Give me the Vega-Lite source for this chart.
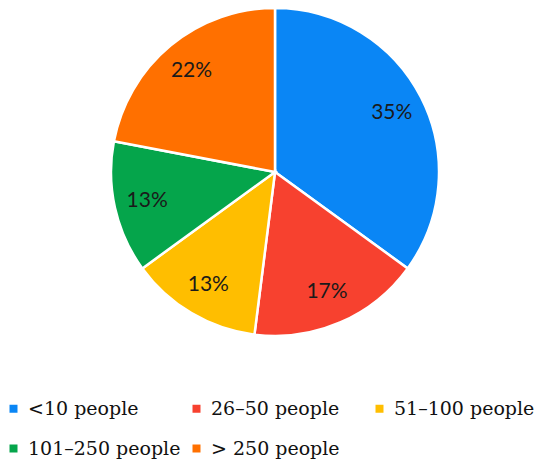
{
  "$schema": "https://vega.github.io/schema/vega-lite/v6.json",
  "width": 550,
  "height": 344,
  "padding": 0,
  "background": "white",
  "data": {
    "values": [
      {"group": "<10 people", "pct": 35, "label": "35%", "ord": 1},
      {"group": "26–50 people", "pct": 17, "label": "17%", "ord": 2},
      {"group": "51–100 people", "pct": 13, "label": "13%", "ord": 3},
      {"group": "101–250 people", "pct": 13, "label": "13%", "ord": 4},
      {"group": "> 250 people", "pct": 22, "label": "22%", "ord": 5}
    ]
  },
  "encoding": {
    "theta": {"field": "pct", "type": "quantitative", "stack": true},
    "order": {"field": "ord", "type": "quantitative"}
  },
  "layer": [
    {
      "mark": {"type": "arc", "outerRadius": 164, "stroke": "white", "strokeWidth": 2.5},
      "encoding": {
        "color": {
          "field": "group",
          "type": "nominal",
          "sort": ["<10 people", "26–50 people", "51–100 people", "101–250 people", "> 250 people"],
          "scale": {
            "domain": ["<10 people", "26–50 people", "51–100 people", "101–250 people", "> 250 people"],
            "range": ["#0A86F5", "#F7412F", "#FFBE00", "#05A54B", "#FF7000"]
          },
          "legend": {
            "title": null,
            "orient": "none",
            "legendX": 4,
            "legendY": 399,
            "direction": "horizontal",
            "columns": 3,
            "gridAlign": "all",
            "columnPadding": 6,
            "rowPadding": 20,
            "padding": 0,
            "symbolType": "square",
            "symbolSize": 64,
            "symbolStrokeWidth": 0,
            "labelOffset": 5,
            "labelFont": "DejaVu Serif",
            "labelFontSize": 19,
            "labelColor": "#111111",
            "labelLimit": 300
          }
        }
      }
    },
    {
      "mark": {"type": "text", "radius": 131, "font": "Lato", "fontSize": 21, "color": "#1a1a1a"},
      "encoding": {
        "text": {"field": "label", "type": "nominal"}
      }
    }
  ],
  "config": {"view": {"stroke": null}}
}
